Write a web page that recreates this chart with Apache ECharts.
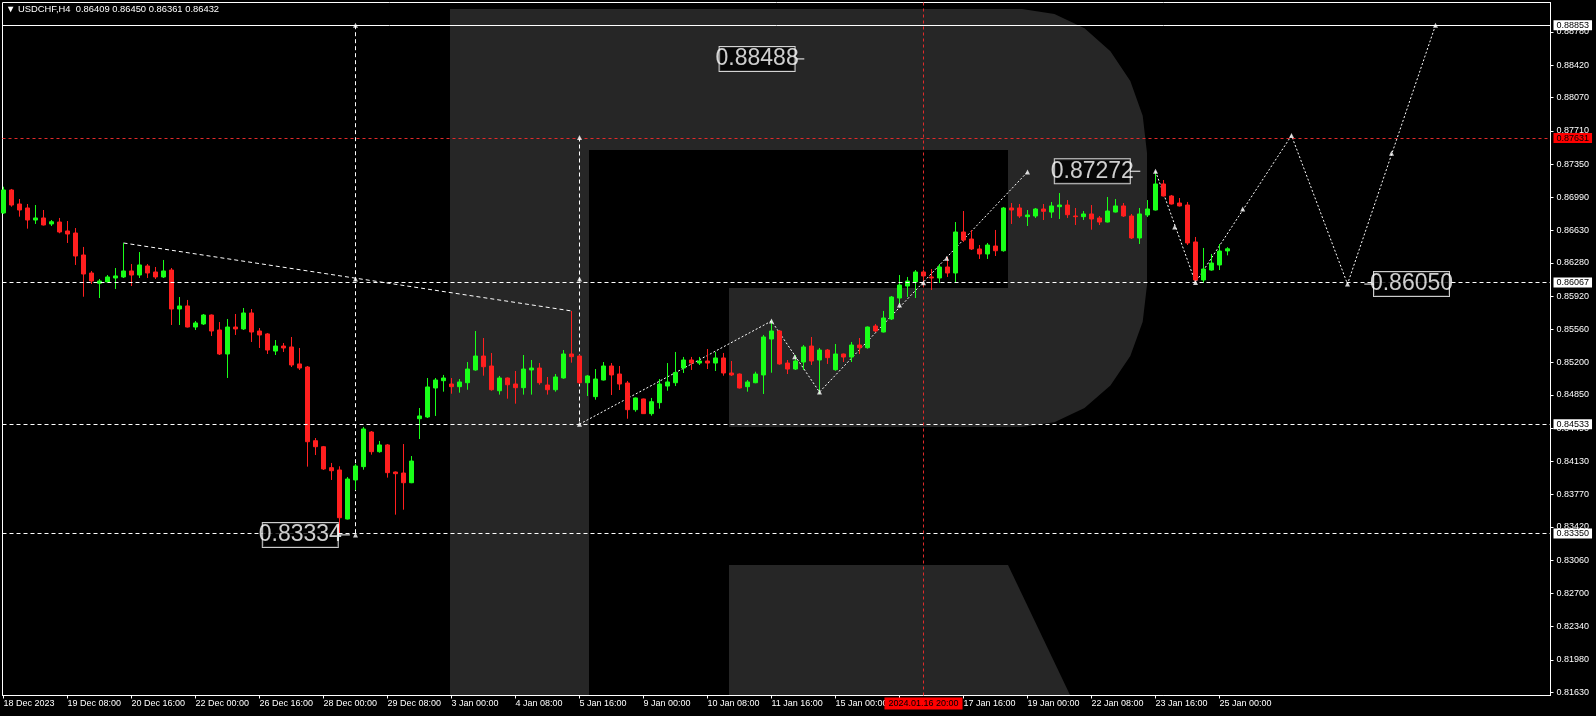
<!DOCTYPE html>
<html><head><meta charset="utf-8">
<script src="https://cdn.jsdelivr.net/npm/echarts@6/dist/echarts.min.js"></script>
<style>html,body{margin:0;padding:0;background:#000;overflow:hidden}#c{width:1596px;height:716px}</style>
</head><body><div id="c"></div>
<script>
// ---------------- DATA ----------------
const symbolName = 'USDCHF,H4';
const opens = [0.86820,0.87069,0.86917,0.86874,0.86744,0.86766,0.86701,0.86722,0.86625,0.86603,
0.86365,0.86170,0.86059,0.86073,0.86116,0.86127,0.86192,0.86148,0.86246,0.86181,
0.86127,0.86202,0.85780,0.85813,0.85585,0.85618,0.85715,0.85553,0.85293,0.85585,
0.85564,0.85737,0.85542,0.85510,0.85325,0.85379,0.85369,0.85185,0.85152,0.84354,
0.84289,0.84062,0.84037,0.83506,0.83929,0.84073,0.84448,0.84235,0.84308,0.84015,
0.84004,0.83899,0.84592,0.84611,0.84925,0.85004,0.84968,0.84939,0.84982,0.85120,
0.85271,0.85163,0.84895,0.85033,0.84968,0.84928,0.85120,0.85141,0.84957,0.84906,
0.85033,0.85293,0.85271,0.84982,0.84831,0.85011,0.85163,0.85076,0.84979,0.84690,
0.84806,0.84647,0.84766,0.84946,0.84982,0.85141,0.85228,0.85195,0.85217,0.85195,
0.85250,0.85087,0.85076,0.84939,0.84982,0.85066,0.85455,0.85542,0.85195,0.85130,
0.85206,0.85379,0.85228,0.85336,0.85123,0.85293,0.85260,0.85390,0.85361,0.85596,
0.85531,0.85672,0.85899,0.86029,0.86073,0.86181,0.86127,0.86116,0.86235,0.86170,
0.86614,0.86538,0.86430,0.86376,0.86462,0.86411,0.86874,0.86874,0.86780,0.86787,
0.86863,0.86830,0.86888,0.86906,0.86787,0.86780,0.86809,0.86766,0.86722,0.86830,
0.86896,0.86787,0.86549,0.86798,0.86852,0.87134,0.87004,0.86928,0.86906,0.86506,
0.86094,0.86202,0.86257,0.86409];
const highs = [0.87104,0.87080,0.86971,0.86917,0.86906,0.86852,0.86744,0.86766,0.86733,0.86657,
0.86452,0.86192,0.86105,0.86148,0.86224,0.86495,0.86267,0.86397,0.86267,0.86235,
0.86311,0.86224,0.85910,0.85878,0.85650,0.85726,0.85721,0.85639,0.85672,0.85726,
0.85791,0.85780,0.85574,0.85520,0.85444,0.85412,0.85477,0.85358,0.85163,0.84383,
0.84297,0.84113,0.84077,0.83961,0.84102,0.84503,0.84459,0.84351,0.84318,0.84021,
0.84318,0.84188,0.84708,0.85033,0.85033,0.85066,0.85033,0.85022,0.85206,0.85542,
0.85466,0.85304,0.85055,0.85039,0.85109,0.85282,0.85228,0.85195,0.85044,0.85076,
0.85336,0.85759,0.85282,0.85066,0.85130,0.85206,0.85195,0.85163,0.85001,0.84822,
0.84810,0.84817,0.85022,0.85195,0.85315,0.85261,0.85261,0.85261,0.85347,0.85315,
0.85304,0.85217,0.85082,0.85011,0.85101,0.85499,0.85661,0.85553,0.85228,0.85282,
0.85390,0.85477,0.85358,0.85347,0.85401,0.85298,0.85423,0.85466,0.85591,0.85618,
0.85759,0.85921,0.86148,0.86127,0.86202,0.86202,0.86213,0.86267,0.86343,0.86722,
0.86841,0.86636,0.86473,0.86495,0.86636,0.86885,0.86928,0.86917,0.86852,0.86874,
0.86917,0.86939,0.87036,0.86960,0.86874,0.86841,0.86906,0.86787,0.86993,0.86971,
0.86928,0.86809,0.86874,0.86960,0.87253,0.87177,0.87015,0.86982,0.86939,0.86560,
0.86441,0.86376,0.86484,0.86450];
const lows = [0.86809,0.86888,0.86780,0.86650,0.86701,0.86684,0.86679,0.86600,0.86495,0.86257,
0.85913,0.86051,0.85899,0.86067,0.85997,0.86116,0.86029,0.86116,0.86116,0.86105,
0.86116,0.85607,0.85607,0.85580,0.85553,0.85607,0.85488,0.85282,0.85033,0.85499,
0.85553,0.85423,0.85358,0.85293,0.85282,0.85315,0.85152,0.85120,0.84073,0.84199,
0.84037,0.83929,0.83340,0.83501,0.83820,0.84040,0.84203,0.84224,0.83954,0.83553,
0.83607,0.83894,0.84372,0.84600,0.84622,0.84885,0.84863,0.84874,0.84906,0.85112,
0.85058,0.84895,0.84853,0.84809,0.84755,0.84853,0.84853,0.84960,0.84853,0.84885,
0.85025,0.85199,0.84968,0.84838,0.84798,0.85006,0.84849,0.84903,0.84592,0.84668,
0.84643,0.84625,0.84701,0.84895,0.84946,0.85087,0.85120,0.85174,0.85130,0.85109,
0.85058,0.85055,0.84919,0.84885,0.84976,0.84860,0.85090,0.85177,0.85076,0.85120,
0.85120,0.85174,0.84860,0.85185,0.85112,0.85206,0.85206,0.85293,0.85350,0.85531,
0.85526,0.85661,0.85834,0.85910,0.85899,0.86040,0.85986,0.86062,0.86127,0.86062,
0.86506,0.86419,0.86322,0.86322,0.86354,0.86401,0.86701,0.86766,0.86679,0.86766,
0.86744,0.86766,0.86755,0.86766,0.86690,0.86744,0.86639,0.86690,0.86717,0.86825,
0.86776,0.86538,0.86484,0.86776,0.86847,0.86998,0.86912,0.86890,0.86473,0.86072,
0.86062,0.86195,0.86202,0.86361];
const closes = [0.87069,0.86906,0.86852,0.86744,0.86766,0.86690,0.86725,0.86614,0.86592,0.86354,
0.86159,0.86083,0.86083,0.86127,0.86138,0.86192,0.86148,0.86257,0.86170,0.86127,
0.86192,0.85780,0.85813,0.85585,0.85629,0.85715,0.85542,0.85293,0.85585,0.85564,
0.85737,0.85531,0.85499,0.85336,0.85379,0.85358,0.85174,0.85141,0.84343,0.84289,
0.84048,0.84029,0.83520,0.83939,0.84080,0.84481,0.84235,0.84308,0.84008,0.83997,
0.83899,0.84134,0.84622,0.84936,0.85011,0.85033,0.84939,0.84990,0.85130,0.85271,
0.85155,0.84906,0.85033,0.84960,0.84928,0.85130,0.85141,0.84982,0.84906,0.85044,
0.85293,0.85264,0.84982,0.85055,0.85022,0.85163,0.85066,0.84968,0.84690,0.84817,
0.84647,0.84776,0.84968,0.84990,0.85093,0.85228,0.85195,0.85217,0.85195,0.85250,
0.85087,0.85066,0.84925,0.84990,0.85076,0.85477,0.85542,0.85185,0.85130,0.85217,
0.85369,0.85217,0.85336,0.85253,0.85293,0.85260,0.85390,0.85361,0.85585,0.85542,
0.85683,0.85910,0.86040,0.86083,0.86181,0.86138,0.86116,0.86235,0.86170,0.86614,
0.86527,0.86430,0.86376,0.86473,0.86411,0.86874,0.86852,0.86787,0.86798,0.86863,
0.86838,0.86896,0.86906,0.86801,0.86780,0.86809,0.86755,0.86722,0.86841,0.86896,
0.86787,0.86549,0.86809,0.86863,0.87134,0.87004,0.86917,0.86896,0.86495,0.86094,
0.86213,0.86278,0.86408,0.86432];

const xTickBars = [0,8,16,24,32,40,48,56,64,72,80,88,96,104,112,120,128,136,144,152];
const xTickLabels = ['18 Dec 2023','19 Dec 08:00','20 Dec 16:00','22 Dec 00:00','26 Dec 16:00',
  '28 Dec 00:00','29 Dec 08:00','3 Jan 00:00','4 Jan 08:00','5 Jan 16:00','9 Jan 00:00',
  '10 Jan 08:00','11 Jan 16:00','15 Jan 00:00','16 Jan 08:00','17 Jan 16:00','19 Jan 00:00',
  '22 Jan 08:00','23 Jan 16:00','25 Jan 00:00'];
const yTickLabels = ['0.88780','0.88420','0.88070','0.87710','0.87350','0.86990','0.86630',
  '0.86280','0.85920','0.85560','0.85200','0.84850','0.84490','0.84130','0.83770','0.83420',
  '0.83060','0.82700','0.82340','0.81980','0.81630'];

const topLevel = 0.88853;
const dashedLevels = [0.86067, 0.84533, 0.83350];
const bidPrice = 0.86432;
const crossBar = 115, crossPrice = 0.87631, crossLabel = '2024.01.16 20:00';

const trendLine = [[15, 0.86495], [71, 0.85759]];
const vLineA = [[44, 0.88853], [44, 0.83334]];
const vLineB = [[72, 0.87637], [72, 0.84533]];
const zigzagA = [[72, 0.84533], [96, 0.85650], [102, 0.84881], [128, 0.87264]];
const zigzagB = [[144, 0.87272], [149, 0.86067], [161, 0.87659], [168, 0.86050], [179, 0.88853]];
const arrowPts = [[44, 0.88853], [44, 0.83334], [44, 0.86105], [72, 0.87637], [72, 0.84533], [72, 0.86105],
  [96, 0.85650], [98.9, 0.85264], [102, 0.84881], [112, 0.85824], [115, 0.86065], [117.9, 0.86329],
  [128, 0.87264], [144, 0.87272], [146.4, 0.86668], [149, 0.86067], [154.9, 0.86863],
  [161, 0.87659], [168, 0.86050], [173.5, 0.87466], [179, 0.88853]];

const tagPrices = [0.88488, 0.87272, 0.83334, 0.86050];
const tagBars = [94.2, 136.1, 37.1, 176.0];
const tagLeads = [[99.1, 100.1], [140.8, 142.1], [41.7, 43.3], [170.1, 171.3]];

// ---------------- CHART ----------------
const FONT = "'Liberation Sans', Arial, sans-serif";
const TAGFONT = "'Liberation Sans Narrow', 'Liberation Sans', sans-serif";
const GREEN = '#19ff19', RED = '#ff1f1f', WM = '#262626';
const candleData = opens.map((o, i) => [i, o, closes[i], lows[i], highs[i]]);
const yTickValues = yTickLabels.map(Number);

function boxLabel(bg, fg) {
  return {show: true, position: 'end', distance: 3,
    formatter: p => Number(p.value).toFixed(5),
    backgroundColor: bg, color: fg, fontSize: 9, fontFamily: FONT,
    lineHeight: 10, padding: [0, 3, 0, 3]};
}
function lineSeries(data, dash, z) {
  return {type: 'line', data: data, symbol: 'none', showSymbol: false, silent: true,
    animation: false, z: z || 3, clip: true,
    lineStyle: {color: '#fff', width: 1, type: dash}};
}

const series = [
  {
    type: 'candlestick', name: symbolName, data: candleData, barWidth: 4, z: 4,
    animation: false, silent: true, clip: true,
    encode: {x: 0, y: [1, 2, 3, 4]},
    itemStyle: {color: GREEN, color0: RED, borderColor: GREEN, borderColor0: RED, borderWidth: 1},
    markLine: {
      symbol: 'none', silent: true, animation: false, precision: 5,
      data: [
        {yAxis: topLevel, lineStyle: {color: '#fff', width: 1, type: 'solid'}, label: boxLabel('#fff', '#000')},
        ...dashedLevels.map(v => ({yAxis: v, lineStyle: {color: '#fff', width: 1, type: [4, 3]}, label: boxLabel('#fff', '#000')})),
        {yAxis: bidPrice, lineStyle: {opacity: 0, width: 0}, label: boxLabel('#fff', '#000')},
        {yAxis: crossPrice, lineStyle: {color: '#e02a2a', width: 1, type: [3, 3]}, label: boxLabel('#ff0000', '#000')},
        {xAxis: crossBar, lineStyle: {color: '#e02a2a', width: 1, type: [3, 3]},
         label: {show: true, position: 'start', distance: 2, formatter: crossLabel,
                 backgroundColor: '#ff0000', color: '#000', fontSize: 9, fontFamily: FONT,
                 lineHeight: 12, padding: [0, 4, 0, 4]}}
      ]
    }
  },
  lineSeries(trendLine, [4, 3]),
  lineSeries(vLineA, [4, 3]),
  lineSeries(vLineB, [4, 3]),
  lineSeries(zigzagA, [2, 2]),
  lineSeries(zigzagB, [2, 2]),
  ...tagLeads.map((lead, k) => lineSeries([[lead[0], tagPrices[k]], [lead[1], tagPrices[k]]], 'solid', 5)),
  {
    type: 'scatter', data: arrowPts, symbol: 'triangle', symbolSize: [5, 5], silent: true,
    animation: false, z: 6, itemStyle: {color: '#fff'}
  },
  {
    type: 'scatter', data: tagBars.map((b, k) => [b, tagPrices[k]]), symbol: 'circle', symbolSize: 1,
    silent: true, animation: false, z: 7, itemStyle: {color: 'rgba(0,0,0,0)'},
    label: {show: true, position: 'inside', formatter: p => p.value[1].toFixed(5),
      color: '#fff', fontSize: 23, fontFamily: TAGFONT, backgroundColor: '#000',
      borderColor: '#fff', borderWidth: 1, padding: [1, 3, 1, 3], lineHeight: 22,
      width: 69, align: 'center', verticalAlign: 'middle', overflow: 'none'}
  }
];

// Watermark logo outline (decoration)
const bowlPts = [[589, 9], [1022, 9], [1054.4, 13.9], [1084.5, 28.3], [1110.4, 51.2], [1130.3, 81],
  [1142.7, 115.7], [1147, 153], [1147, 285], [1142.7, 321.8], [1130.3, 356], [1110.4, 385.4],
  [1084.5, 408], [1054.4, 422.2], [1022, 427], [729, 427], [729, 288], [1008, 288], [1008, 150], [589, 150]];

const chart = echarts.init(document.getElementById('c'), null, {renderer: 'canvas', width: 1596, height: 716});
const o = opens.length - 1;
chart.setOption({
  backgroundColor: '#000',
  animation: false,
  title: {
    text: '\u25BC ' + symbolName + '  ' + opens[o].toFixed(5) + ' ' + highs[o].toFixed(5) + ' ' +
          lows[o].toFixed(5) + ' ' + closes[o].toFixed(5),
    left: 6, top: 5, padding: 0,
    textStyle: {color: '#fff', fontSize: 9.4, fontWeight: 'normal', fontFamily: FONT}
  },
  grid: {left: 2.5, right: 45.5, top: 2.5, bottom: 20.5, show: true, borderColor: '#fff',
         borderWidth: 1, backgroundColor: 'transparent', containLabel: false},
  xAxis: {
    type: 'value', min: -0.125, max: 193.375,
    axisLine: {show: true, onZero: false, lineStyle: {color: '#fff', width: 1}},
    axisTick: {show: true, inside: false, length: 3, lineStyle: {color: '#fff'}, customValues: xTickBars},
    axisLabel: {show: true, customValues: xTickBars, color: '#fff', fontSize: 9, fontFamily: FONT,
      align: 'left', margin: 4, formatter: v => { const k = xTickBars.indexOf(Math.round(v)); return k >= 0 ? xTickLabels[k] : ''; }},
    splitLine: {show: false}
  },
  yAxis: {
    type: 'value', position: 'right', min: 0.81595, max: 0.89099, scale: true,
    axisLine: {show: true, onZero: false, lineStyle: {color: '#fff', width: 1}},
    axisTick: {show: true, inside: false, length: 3, lineStyle: {color: '#fff'}, customValues: yTickValues},
    axisLabel: {show: true, customValues: yTickValues, color: '#fff', fontSize: 9, fontFamily: FONT,
      margin: 6, formatter: v => Number(v).toFixed(5)},
    splitLine: {show: false}
  },
  graphic: [
    {type: 'rect', z: -10, silent: true, shape: {x: 450, y: 9, width: 139, height: 686}, style: {fill: WM}},
    {type: 'polygon', z: -10, silent: true, shape: {points: bowlPts}, style: {fill: WM}},
    {type: 'polygon', z: -10, silent: true, shape: {points: [[729, 565], [1008, 565], [1070, 695], [729, 695]]}, style: {fill: WM}}
  ],
  series: series
});
</script>
</body></html>
